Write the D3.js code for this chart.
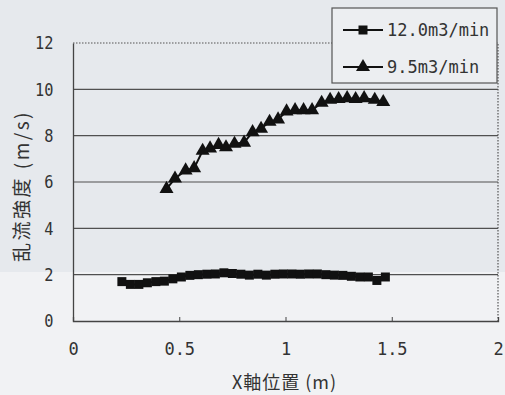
<!DOCTYPE html>
<html>
<head>
<meta charset="utf-8">
<script src="https://cdn.jsdelivr.net/npm/d3@7"></script>
<style>
  body { margin: 0; background: #e9ecef; }
  svg { display: block; }
</style>
</head>
<body>
<svg id="chart"></svg>
<script>
// series: 12.0 m3/min (squares)
const xSquare = [0.23, 0.27, 0.31, 0.35, 0.39, 0.43, 0.47, 0.51, 0.55, 0.59, 0.63, 0.67, 0.71, 0.75, 0.79, 0.83,
                 0.87, 0.91, 0.95, 0.99, 1.03, 1.07, 1.11, 1.15, 1.19, 1.23, 1.27, 1.31, 1.35, 1.39, 1.43, 1.47];
const ySquare = [1.7, 1.58, 1.58, 1.65, 1.7, 1.72, 1.82, 1.9, 1.97, 2.0, 2.02, 2.03, 2.08, 2.05, 2.02, 1.98,
                 2.02, 1.98, 2.02, 2.03, 2.03, 2.02, 2.03, 2.03, 2.0, 1.98, 1.97, 1.93, 1.9, 1.9, 1.75, 1.9];

// series: 9.5 m3/min (triangles)
const xTri = [0.44, 0.48, 0.53, 0.57, 0.61, 0.645, 0.685, 0.72, 0.76, 0.805, 0.845, 0.885, 0.925, 0.965,
              1.005, 1.045, 1.085, 1.125, 1.17, 1.21, 1.25, 1.29, 1.33, 1.37, 1.42, 1.46];
const yTri = [5.7, 6.15, 6.5, 6.6, 7.35, 7.45, 7.6, 7.5, 7.65, 7.7, 8.15, 8.3, 8.6, 8.7,
              9.05, 9.1, 9.1, 9.1, 9.42, 9.55, 9.58, 9.62, 9.58, 9.62, 9.55, 9.45];

const seriesNames = ['12.0m3/min', '9.5m3/min'];
const xTicks = [0, 0.5, 1, 1.5, 2];
const yTicks = [0, 2, 4, 6, 8, 10, 12];
const xTitle = 'X軸位置 (m)';
const yTitle = '乱流強度 (m/s)';

const W = 505, H = 395;
const margin = {top: 43, right: 7, bottom: 74, left: 73};
const width = W - margin.left - margin.right;
const height = H - margin.top - margin.bottom;

const svg = d3.select('#chart').attr('width', W).attr('height', H);

// scanned page look: darker top, lighter bottom
svg.append('rect').attr('width', W).attr('height', H).attr('fill', '#e6e9ed');
svg.append('rect').attr('y', 272).attr('width', W).attr('height', H - 272).attr('fill', '#f1f2f4');

const g = svg.append('g').attr('transform', 'translate(' + margin.left + ',' + margin.top + ')');

const x = d3.scaleLinear().domain([0, 2]).range([0, width]);
const y = d3.scaleLinear().domain([0, 12]).range([height, 0]);

const monoFont = '"DejaVu Sans Mono", monospace';
const cjkFont = '"Noto Sans CJK JP", sans-serif';

// gridlines
g.append('g')
    .selectAll('line')
    .data(yTicks.filter(d => d > 0 && d < 12))
    .enter().append('line')
    .attr('x1', 0).attr('x2', width)
    .attr('y1', d => y(d)).attr('y2', d => y(d))
    .attr('stroke', '#505050').attr('stroke-width', 1.1);

// dotted top & right border
g.append('path')
    .attr('d', 'M0,' + y(12) + 'H' + x(2) + 'V' + y(0))
    .attr('fill', 'none')
    .attr('stroke', '#555').attr('stroke-width', 1.2)
    .attr('stroke-dasharray', '1.5,1.5');

// y axis
const yAxis = g.append('g')
    .call(d3.axisLeft(y).tickValues(yTicks).tickSize(0).tickPadding(23));
yAxis.select('.domain').attr('stroke', '#444').attr('stroke-width', 1.3);
yAxis.selectAll('text')
    .attr('font-family', monoFont).attr('font-size', 18).attr('fill', '#333')
    .attr('transform', 'scale(0.85,1)');

// x axis, small ticks pointing inside
const xAxis = g.append('g')
    .attr('transform', 'translate(0,' + height + ')')
    .call(d3.axisBottom(x).tickValues(xTicks).tickSize(-4).tickPadding(22)
        .tickFormat(d => String(d)));
xAxis.select('.domain').attr('stroke', '#444').attr('stroke-width', 1.3);
xAxis.selectAll('.tick line').attr('stroke', '#444');
xAxis.selectAll('.tick').filter(d => d === 0 || d === 2).select('line').remove();
xAxis.selectAll('text')
    .attr('font-family', monoFont).attr('font-size', 17).attr('fill', '#333');

// lines
const line = d3.line().x(d => x(d[0])).y(d => y(d[1]));
const sqData = d3.zip(xSquare, ySquare);
const triData = d3.zip(xTri, yTri);

g.append('path').datum(sqData)
    .attr('d', line).attr('fill', 'none').attr('stroke', '#111').attr('stroke-width', 2);
g.append('path').datum(triData)
    .attr('d', line).attr('fill', 'none').attr('stroke', '#111').attr('stroke-width', 2);

const sqSym = d3.symbol().type(d3.symbolSquare).size(81);
const triSym = d3.symbol().type(d3.symbolTriangle).size(85);

g.append('g').selectAll('path')
    .data(sqData).enter().append('path')
    .attr('d', sqSym)
    .attr('transform', d => 'translate(' + x(d[0]) + ',' + y(d[1]) + ')')
    .attr('fill', '#111');

g.append('g').selectAll('path')
    .data(triData).enter().append('path')
    .attr('d', triSym)
    .attr('transform', d => 'translate(' + x(d[0]) + ',' + y(d[1]) + ')')
    .attr('fill', '#111');

// axis titles
svg.append('text')
    .attr('x', margin.left + x(1) - 1).attr('y', 389)
    .attr('text-anchor', 'middle')
    .attr('font-family', cjkFont).attr('font-size', 18).attr('letter-spacing', 1).attr('fill', '#333')
    .text(xTitle);

svg.append('text')
    .attr('transform', 'translate(29,' + (margin.top + y(6) + 4) + ') rotate(-90)')
    .attr('text-anchor', 'middle')
    .attr('font-family', cjkFont).attr('font-size', 19).attr('letter-spacing', 2.5).attr('fill', '#333')
    .text(yTitle);

// legend
const legend = svg.append('g').attr('transform', 'translate(332,8)');
legend.append('rect')
    .attr('width', 165).attr('height', 75)
    .attr('fill', '#eceef1').attr('stroke', '#555').attr('stroke-width', 1.2);

const legendRows = legend.selectAll('g.row')
    .data(seriesNames).enter().append('g')
    .attr('class', 'row')
    .attr('transform', (d, i) => 'translate(0,' + (22 + i * 37) + ')');

legendRows.append('line')
    .attr('x1', 11).attr('x2', 51)
    .attr('stroke', '#111').attr('stroke-width', 2);
legendRows.append('path')
    .attr('d', (d, i) => i === 0 ? sqSym() : triSym())
    .attr('transform', 'translate(31,0)')
    .attr('fill', '#111');
legendRows.append('text')
    .attr('x', 55).attr('y', 6)
    .attr('font-family', monoFont).attr('font-size', 17).attr('fill', '#333')
    .text(d => d);
</script>
</body>
</html>
